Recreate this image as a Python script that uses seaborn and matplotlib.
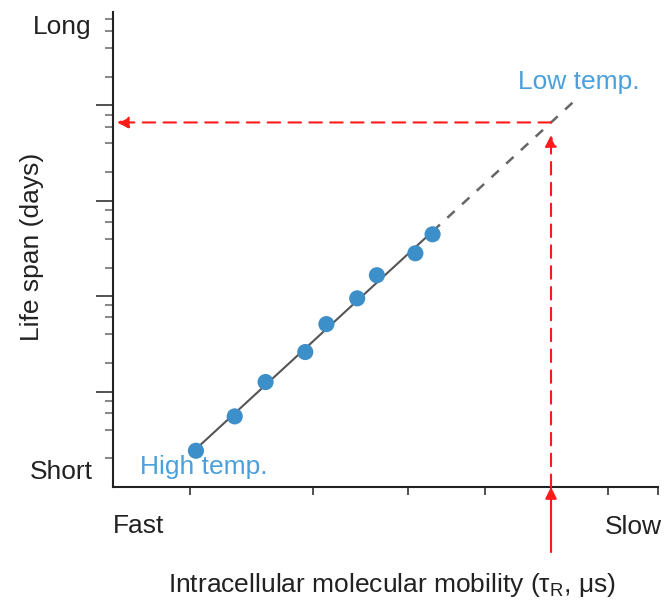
import numpy as np
import pandas as pd
import matplotlib
matplotlib.use("Agg")
import matplotlib.pyplot as plt
from matplotlib.ticker import FixedLocator, NullFormatter, NullLocator
import seaborn as sns

# ---- data ----
mobility = [3.04, 3.33, 3.58, 3.93, 4.13, 4.44, 4.65, 5.09, 5.30]
life_span = [2.4, 5.5, 12.6, 26.0, 51.0, 95.0, 166.0, 282.0, 446.0]
x_low_temp = 7.0          # low-temperature mobility (red arrow)
x_extrap_end = 7.45       # end of dashed extrapolation
x_limits = [2.5, 9.0]
y_limits = [1.0, 10 ** 4.98]
x_ticks = [3, 4, 5, 6, 7, 8, 9]
y_major_ticks = [10, 100, 1000, 10000]
y_minor_ticks = [m * 10 ** d for d in range(0, 5) for m in (2, 4, 6, 8)]

df = pd.DataFrame({"mobility": mobility, "life_span": life_span})

# fit in log-log space
slope, intercept = np.polyfit(np.log10(mobility), np.log10(life_span), 1)
def fit(x):
    return 10 ** (slope * np.log10(x) + intercept)
y_low_temp = fit(x_low_temp)

sns.set_style("white")
plt.rcParams["font.family"] = ["Liberation Sans", "DejaVu Sans"]
plt.rcParams["mathtext.fontset"] = "custom"
plt.rcParams["mathtext.rm"] = "Liberation Sans"
plt.rcParams["mathtext.it"] = "Liberation Sans:italic"

fig = plt.figure(figsize=(6.66, 6.03), dpi=100)
ax = fig.add_axes([112.7 / 666, 1 - 487 / 603, 545.3 / 666, 475 / 603])

FS = 19
blue_pt = "#3d8fc9"
blue_txt = "#4aa0dc"
red = "#ff1a1a"

# fit line (solid within data, dashed extrapolation)
xs_solid = np.array([mobility[0], mobility[-1]])
ax.plot(xs_solid, fit(xs_solid), color="#555555", lw=1.5, zorder=2)
xs_dash = np.array([mobility[-1], x_extrap_end])
ax.plot(xs_dash, fit(xs_dash), color="#666666", lw=1.8, ls=(0, (4, 4)), zorder=2)

sns.scatterplot(data=df, x="mobility", y="life_span", ax=ax, s=135,
                color=blue_pt, edgecolor="none", zorder=3, legend=False)

ax.set_xscale("log")
ax.set_yscale("log")
ax.set_xlim(x_limits)
ax.set_ylim(y_limits)

# red arrows
ax.annotate("", xy=(x_low_temp, y_low_temp), xytext=(x_low_temp, y_limits[0]),
            xycoords="data", textcoords="data",
            arrowprops=dict(arrowstyle="-|>", color=red, lw=1.5, ls=(0, (6, 4)),
                            mutation_scale=17, shrinkA=0, shrinkB=9),
            annotation_clip=False, zorder=4)
ax.annotate("", xy=(x_limits[0], y_low_temp), xytext=(x_low_temp, y_low_temp),
            xycoords="data", textcoords="data",
            arrowprops=dict(arrowstyle="-|>", color=red, lw=1.5, ls=(0, (6, 4)),
                            mutation_scale=17, shrinkA=0, shrinkB=3),
            annotation_clip=False, zorder=4)
ax.annotate("", xy=(x_low_temp, 0.0), xytext=(x_low_temp, -0.137),
            xycoords=ax.get_xaxis_transform(), textcoords=ax.get_xaxis_transform(),
            arrowprops=dict(arrowstyle="-|>", color=red, lw=1.5,
                            mutation_scale=17, shrinkA=0, shrinkB=0),
            annotation_clip=False, zorder=4)

# ticks
ax.xaxis.set_major_locator(FixedLocator(x_ticks))
ax.xaxis.set_minor_locator(NullLocator())
ax.xaxis.set_major_formatter(NullFormatter())
ax.xaxis.set_minor_formatter(NullFormatter())
ax.yaxis.set_major_locator(FixedLocator(y_major_ticks))
ax.yaxis.set_minor_locator(FixedLocator(y_minor_ticks))
ax.yaxis.set_major_formatter(NullFormatter())
ax.yaxis.set_minor_formatter(NullFormatter())
ax.tick_params(axis="x", which="major", direction="out", length=6, width=1.2,
               color="#333333", bottom=True)
ax.tick_params(axis="y", which="major", direction="out", length=12, width=1.2,
               color="#333333", left=True)
ax.tick_params(axis="y", which="minor", direction="out", length=6, width=1.1,
               color="#666666", left=True)

for s in ["top", "right"]:
    ax.spines[s].set_visible(False)
for s in ["left", "bottom"]:
    ax.spines[s].set_color("#222222")
    ax.spines[s].set_linewidth(1.5)

ax.set_xlabel("")
ax.set_ylabel("")

# texts
tc = "#222222"
ax.text(-0.038, 0.968, "Long", transform=ax.transAxes, ha="right", va="center", fontsize=FS, color=tc)
ax.text(-0.036, 0.032, "Short", transform=ax.transAxes, ha="right", va="center", fontsize=FS, color=tc)
ax.text(0.0, -0.083, "Fast", transform=ax.transAxes, ha="left", va="center", fontsize=FS, color=tc)
ax.text(1.007, -0.085, "Slow", transform=ax.transAxes, ha="right", va="center", fontsize=FS, color=tc)
ax.text(0.512, -0.206, "Intracellular molecular mobility (τ$_\\mathregular{R}$, μs)",
        transform=ax.transAxes, ha="center", va="center", fontsize=FS, color=tc)
ax.text(-0.148, 0.505, "Life span (days)", transform=ax.transAxes, ha="center", va="center",
        rotation=90, fontsize=FS, color=tc)
ax.text(0.05, 0.042, "High temp.", transform=ax.transAxes, ha="left", va="center",
        fontsize=FS, color=blue_txt)
ax.text(0.743, 0.853, "Low temp.", transform=ax.transAxes, ha="left", va="center",
        fontsize=FS, color=blue_txt)

fig.savefig("out.png", dpi=100)
